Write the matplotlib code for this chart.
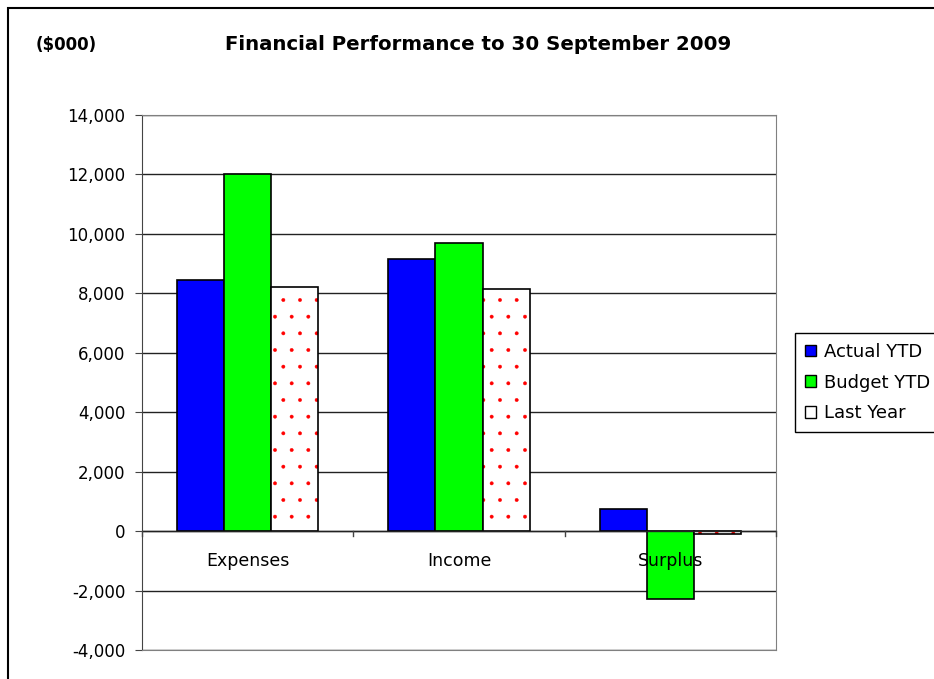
import numpy as np
import matplotlib.pyplot as plt
import matplotlib.ticker as ticker
from matplotlib.patches import Rectangle, Patch

plt.rcParams['font.family'] = ['DejaVu Sans']
plt.rcParams['hatch.linewidth'] = 0.3

#----------------
# data ($000)

categories = ['Expenses', 'Income', 'Surplus']
actual_ytd = [8450, 9150, 740]
budget_ytd = [12000, 9700, -2290]
last_year = [8200, 8150, -100]
series_names = ['Actual YTD', 'Budget YTD', 'Last Year']

#----------------

fig = plt.figure(figsize=(9.34, 6.79), dpi=100)
ax = fig.add_axes([142/934, 1-650/679, (776-142)/934, (650-115)/679])

x = np.arange(len(categories))
w = 0.223

ax.bar(x - w, actual_ytd, w, color='#0000ff', edgecolor='black', linewidth=1.2, zorder=3)
ax.bar(x, budget_ytd, w, color='#00ff00', edgecolor='black', linewidth=1.2, zorder=3)
# dotted fill in red, then a black outline on top
ax.bar(x + w, last_year, w, color='white', edgecolor='#ff0000', hatch='.', linewidth=0, zorder=3)
ax.bar(x + w, last_year, w, fill=False, edgecolor='black', linewidth=1.2, zorder=4)

ax.set_xlim(-0.5, 2.5)
ax.set_ylim(-4000, 14000)
ax.yaxis.set_major_locator(ticker.MultipleLocator(2000))
ax.yaxis.set_major_formatter(ticker.FuncFormatter(lambda v, p: f'{int(v):,}'))
ax.tick_params(axis='y', labelsize=12, length=5, direction='out', color='#444444', pad=7)
ax.grid(axis='y', color='#222222', linewidth=1, zorder=0)

ax.set_xticks([])
ax.axhline(0, color='#222222', linewidth=1, zorder=5)
for b in [-0.5, 0.5, 1.5, 2.5]:
    ax.plot([b, b], [0, -150], color='#444444', linewidth=1, zorder=5, clip_on=False)
for i, c in enumerate(categories):
    ax.text(i, -1000, c, ha='center', va='center', fontsize=12.5, zorder=6)

for s in ax.spines.values():
    s.set_color('#808080')
ax.spines['left'].set_color('#444444')

# titles
fig.text(478/934, 1-45/679, 'Financial Performance to 30 September 2009',
         ha='center', va='center', fontsize=14.2, fontweight='bold')
fig.text(36/934, 1-45/679, '($000)', ha='left', va='center', fontsize=12, fontweight='bold')

# legend
handles = [Patch(facecolor='#0000ff', edgecolor='black'),
           Patch(facecolor='#00ff00', edgecolor='black'),
           Patch(facecolor='white', edgecolor='black')]
leg = fig.legend(handles, series_names, loc='upper left',
                 bbox_to_anchor=(795/934, 1-333/679), fontsize=13,
                 handlelength=0.6, handleheight=0.6, handletextpad=0.45,
                 labelspacing=0.7, borderpad=0.55, borderaxespad=0, fancybox=False,
                 framealpha=1, edgecolor='black')
leg.get_frame().set_linewidth(1)

# outer chart border, cut off on the right and bottom
fig.patches.append(Rectangle((8/934, -0.1), 1.2, 1-8/679+0.1, transform=fig.transFigure,
                             fill=False, edgecolor='black', linewidth=1.5))

fig.savefig('out.png', dpi=100)
